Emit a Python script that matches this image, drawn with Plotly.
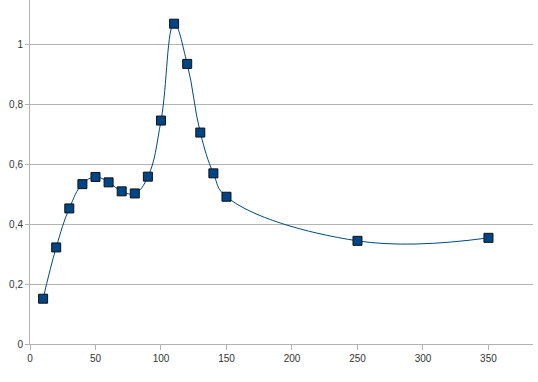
import plotly.graph_objects as go

x_values = [10, 20, 30, 40, 50, 60, 70, 80, 90, 100, 110, 120, 130, 140, 150, 250, 350]
y_values = [0.151, 0.322, 0.452, 0.533, 0.557, 0.539, 0.509, 0.502, 0.558, 0.745,
            1.068, 0.934, 0.705, 0.569, 0.491, 0.344, 0.354]
x_ticks = [0, 50, 100, 150, 200, 250, 300, 350]
y_ticks = [0, 0.2, 0.4, 0.6, 0.8, 1]

fig = go.Figure()
fig.add_trace(go.Scatter(
    x=x_values, y=y_values, mode="lines+markers",
    line=dict(color="#004a80", width=1, shape="spline", smoothing=1.2),
    marker=dict(symbol="square", size=9, color="#004586",
                line=dict(color="#111111", width=1)),
    showlegend=False, cliponaxis=False, hoverinfo="skip",
))

axis_color = "#b3b3b3"
fig.update_layout(
    width=538, height=382,
    margin=dict(l=30, r=5, t=0, b=38, autoexpand=False),
    paper_bgcolor="white", plot_bgcolor="white",
    separators=", ",
    font=dict(family="Liberation Sans, Arial, sans-serif", size=10, color="#333333"),
    xaxis=dict(range=[0, 384], tickvals=x_ticks, showgrid=False, zeroline=False,
               showline=True, linecolor=axis_color, linewidth=1, automargin=False,
               ticks="outside", ticklen=5, tickcolor=axis_color),
    yaxis=dict(range=[0, 1.147], tickvals=y_ticks, showgrid=True, gridcolor=axis_color,
               gridwidth=1, zeroline=False, showline=True, linecolor=axis_color,
               linewidth=1, ticks="outside", ticklen=4, tickcolor=axis_color,
               automargin=False),
)
fig.write_html("out.html", config={"displayModeBar": False},
               post_script="document.body.style.margin='0';document.body.style.overflow='hidden';")
